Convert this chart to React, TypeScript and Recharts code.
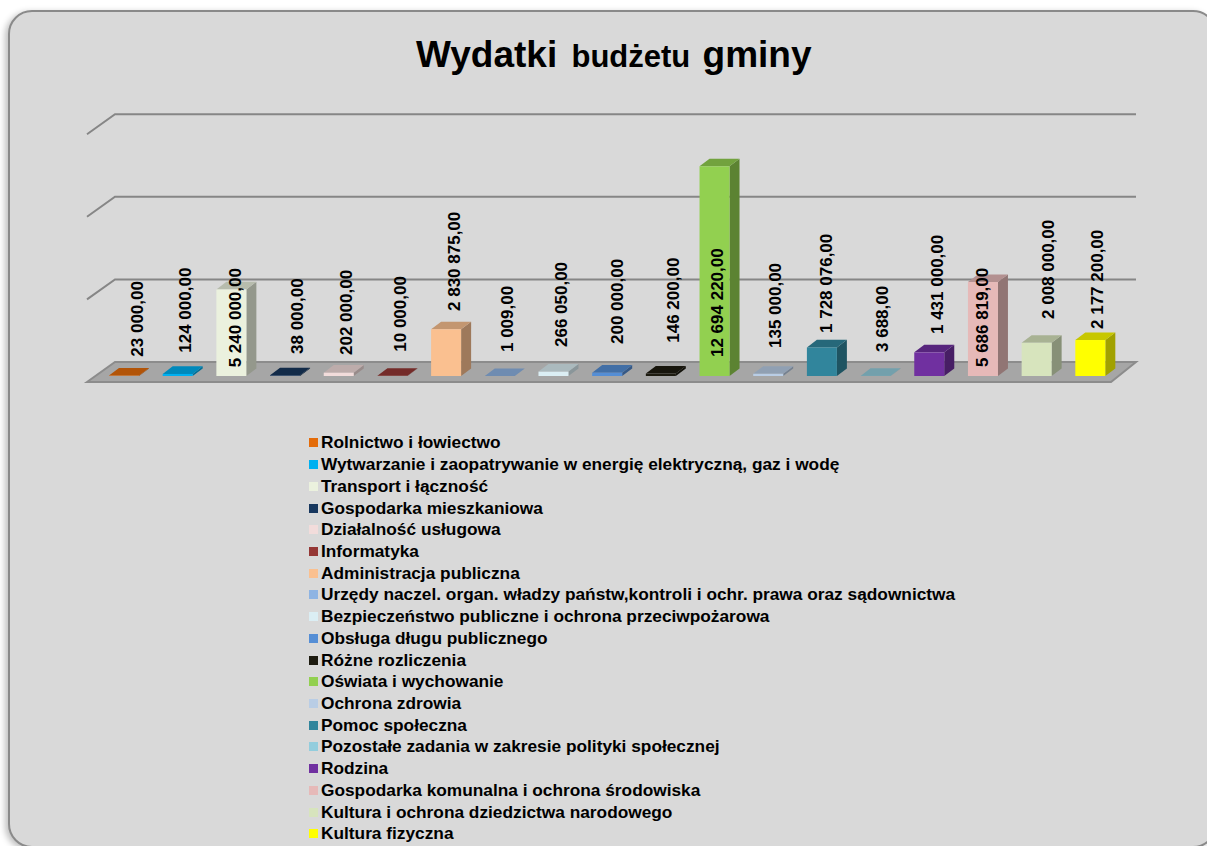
import React from "react";
import { Bar, BarChart, CartesianGrid, LabelList, Legend, XAxis, YAxis } from "recharts";

const categories = [
  "Rolnictwo i łowiectwo",
  "Wytwarzanie i zaopatrywanie w energię elektryczną, gaz i wodę",
  "Transport i łączność",
  "Gospodarka mieszkaniowa",
  "Działalność usługowa",
  "Informatyka",
  "Administracja publiczna",
  "Urzędy naczel. organ. władzy państw,kontroli i ochr. prawa oraz sądownictwa",
  "Bezpieczeństwo publiczne i ochrona przeciwpożarowa",
  "Obsługa długu publicznego",
  "Różne rozliczenia",
  "Oświata i wychowanie",
  "Ochrona zdrowia",
  "Pomoc społeczna",
  "Pozostałe zadania w zakresie polityki społecznej",
  "Rodzina",
  "Gospodarka komunalna i ochrona środowiska",
  "Kultura i ochrona dziedzictwa narodowego",
  "Kultura fizyczna"
];

const values = [
  23000, 124000, 5240000, 38000, 202000, 10000, 2830875, 1009, 266050, 200000,
  146200, 12694220, 135000, 1728076, 3688, 1431000, 5686819, 2008000, 2177200
];

const colors = [
  "#E46C0A", "#00B0F0", "#EBF1DE", "#17375E", "#F2DCDB", "#953735", "#FAC090",
  "#8EB4E3", "#DBEEF4", "#558ED5", "#1D1B10", "#92D050", "#B9CDE5", "#31859C",
  "#93CDDD", "#7030A0", "#E6B9B8", "#D7E4BD", "#FFFF00"
];

const yTicks = [0, 5000000, 10000000, 15000000];

// hand placed labels: shift from the bar centre, rise above the bar base
const labelShift = [14, 8, 4, 12.7, 7.5, 8, 8.6, 8, 8, 10, 12.5, 3, 7.5, 4.7, 7, 8, 0, 12, 7];
const labelRise = [19.3, 23.3, 8.7, 22, 21, 24.3, 65, 24, 29, 32, 33.3, 19, 28, 43, 24, 42, 9, 57, 47];

const data = categories.map((name, i) => ({ name, value: values[i] }));

const FONT = "'Liberation Sans', Arial, sans-serif";
const DEPTH_X = 10;
const DEPTH_Y = 7.6;

const shade = (hex: string, k: number) => {
  const n = parseInt(hex.slice(1), 16);
  const c = [(n >> 16) & 255, (n >> 8) & 255, n & 255].map(v => Math.round(v * k));
  return `rgb(${c.join(",")})`;
};

const formatValue = (v: number) =>
  String(v).replace(/\B(?=(\d{3})+$)/g, " ") + ",00";

const Bar3D = (props: any) => {
  const { x, y, width, height, index } = props;
  const fill = colors[index];
  const b = y + height;
  return (
    <g>
      <polygon
        points={`${x + width},${y} ${x + width + DEPTH_X},${y - DEPTH_Y} ${x + width + DEPTH_X},${b - DEPTH_Y} ${x + width},${b}`}
        fill={shade(fill, 0.63)}
      />
      <polygon
        points={`${x},${y} ${x + DEPTH_X},${y - DEPTH_Y} ${x + width + DEPTH_X},${y - DEPTH_Y} ${x + width},${y}`}
        fill={shade(fill, 0.78)}
      />
      <rect x={x} y={y} width={width} height={height} fill={fill} />
    </g>
  );
};

const GridLine = (props: any) => {
  const { x1, x2, y1 } = props;
  if (y1 > 370) {
    return (
      <polygon
        points={`${x1 - 10},${y1 + 6} ${x1 + 18},${y1 - 14} ${x2 + 19},${y1 - 14} ${x2 - 6},${y1 + 6}`}
        fill="#A6A6A6"
        stroke="#8C8C8C"
        strokeWidth={2}
      />
    );
  }
  return (
    <polyline
      points={`${x1 - 10},${y1 + 6} ${x1 + 18},${y1 - 14} ${x2 + 19},${y1 - 14}`}
      fill="none"
      stroke="#868686"
      strokeWidth={2}
    />
  );
};

const ValueLabel = (props: any) => {
  const { x, y, width, height, index, value } = props;
  const cx = x + width / 2 + labelShift[index];
  const cy = y + height - labelRise[index];
  return (
    <text
      x={cx}
      y={cy}
      transform={`rotate(-90 ${cx} ${cy})`}
      dominantBaseline="central"
      fontFamily={FONT}
      fontWeight="bold"
      fontSize={17}
      fill="#000"
    >
      {formatValue(value)}
    </text>
  );
};

const LegendList = () => (
  <div style={{ fontFamily: FONT, fontWeight: "bold", fontSize: 17.3, color: "#000" }}>
    {categories.map((name, i) => (
      <div key={name} style={{ display: "flex", alignItems: "center", height: 21.72, whiteSpace: "nowrap" }}>
        <span style={{ width: 9, height: 9, background: colors[i], marginRight: 3, flex: "none" }} />
        {name}
      </div>
    ))}
  </div>
);

const App = () => (
  <div style={{ position: "absolute", left: 0, top: 0, width: 1207, height: 846, overflow: "hidden", background: "#fff" }}>
    <div
      style={{
        position: "absolute",
        left: 8,
        top: 10,
        width: 1209,
        height: 838,
        boxSizing: "border-box",
        background: "#D9D9D9",
        border: "2px solid #8A8A8A",
        borderRadius: 24,
        boxShadow: "-3px 2px 6px rgba(0,0,0,0.25)"
      }}
    />
    <div
      style={{
        position: "absolute",
        left: 416,
        top: 31,
        whiteSpace: "nowrap",
        fontFamily: FONT,
        fontWeight: "bold",
        fontSize: 37,
        lineHeight: "48px",
        color: "#000"
      }}
    >
      Wydatki <span style={{ fontSize: 31, marginLeft: 4, marginRight: 2 }}>budżetu</span> gminy
    </div>
    <div style={{ position: "absolute", left: 0, top: 0 }}>
      <BarChart
        width={1207}
        height={846}
        data={data}
        barSize={30}
        margin={{ top: 128.2, right: 90, bottom: 470, left: 97 }}
      >
        <CartesianGrid vertical={false} horizontal={GridLine} />
        <XAxis dataKey="name" hide />
        <YAxis hide domain={[0, 15000000]} ticks={yTicks} />
        <Legend
          content={<LegendList />}
          layout="vertical"
          align="center"
          verticalAlign="middle"
          wrapperStyle={{ position: "absolute", left: 309, top: 432, width: 800 }}
        />
        <Bar dataKey="value" shape={<Bar3D />} isAnimationActive={false}>
          <LabelList dataKey="value" content={<ValueLabel />} />
        </Bar>
      </BarChart>
    </div>
  </div>
);

export default App;
